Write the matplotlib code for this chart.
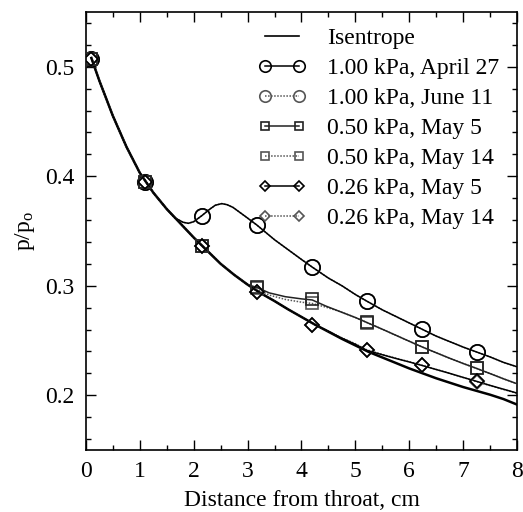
import numpy as np
import matplotlib
matplotlib.use("Agg")
import matplotlib.pyplot as plt
from matplotlib.ticker import MultipleLocator

plt.rcParams['font.family'] = ['Liberation Serif', 'DejaVu Serif']
plt.rcParams['mathtext.fontset'] = 'custom'
plt.rcParams['mathtext.rm'] = 'Liberation Serif'
plt.rcParams['mathtext.it'] = 'Liberation Serif:italic'

# ---- data ----
# measurement stations (cm from throat)
stations = [0.1, 1.1, 2.15, 3.17, 4.2, 5.21, 6.23, 7.25]

p_100_apr27 = [0.507, 0.395, 0.364, 0.3555, 0.317, 0.286, 0.2605, 0.2395]
p_100_jun11 = [0.507, 0.395, 0.364, 0.3555, 0.317, 0.286, 0.2605, 0.2395]
p_050_may5 = [0.507, 0.395, 0.336, 0.2985, 0.2875, 0.2665, 0.2443, 0.2245]
p_050_may14 = [0.507, 0.395, 0.336, 0.2975, 0.2838, 0.2660, 0.2443, 0.2245]
p_026_may5 = [0.507, 0.395, 0.336, 0.294, 0.264, 0.241, 0.2273, 0.2127]
p_026_may14 = [0.507, 0.395, 0.336, 0.2945, 0.2645, 0.2415, 0.2275, 0.2125]

# isentrope
isen_x = [0.1, 0.25, 0.5, 0.75, 1.0, 1.25, 1.5, 1.75, 2.0, 2.25, 2.5, 2.75,
          3.0, 3.25, 3.5, 3.75, 4.0, 4.25, 4.5, 4.75, 5.0, 5.25, 5.5, 5.75,
          6.0, 6.25, 6.5, 6.75, 7.0, 7.25, 7.5, 7.75, 8.0]
isen_p = [0.508, 0.487, 0.455, 0.427, 0.403, 0.385, 0.370, 0.357, 0.344,
          0.332, 0.320, 0.310, 0.301, 0.293, 0.286, 0.2785, 0.2715, 0.2645,
          0.258, 0.2515, 0.2455, 0.2395, 0.2345, 0.2295, 0.2245, 0.2200,
          0.2155, 0.2115, 0.2075, 0.2040, 0.2005, 0.1965, 0.1915]

# where each curve leaves the isentrope
circ_x = [1.65, 1.8, 1.9, 2.0, 2.15, 2.3, 2.4, 2.52, 2.62, 2.73, 2.98, 3.17,
          3.5, 3.75, 4.0, 4.2, 4.5, 4.75, 5.0, 5.21, 5.5, 5.75, 6.0, 6.23,
          6.5, 6.75, 7.0, 7.25, 7.5, 7.75, 8.0]
circ_p = [0.362, 0.358, 0.357, 0.3585, 0.364, 0.370, 0.3735, 0.375, 0.374,
          0.3715, 0.3625, 0.3555, 0.342, 0.333, 0.324, 0.317, 0.307, 0.300,
          0.292, 0.286, 0.278, 0.272, 0.266, 0.2605, 0.254, 0.249, 0.244,
          0.2395, 0.235, 0.230, 0.226]

sq5_x = [3.0, 3.17, 3.4, 3.7, 4.0, 4.2, 4.45, 4.71, 5.0, 5.21, 5.5, 5.75,
         6.0, 6.23, 6.5, 6.75, 7.0, 7.25, 7.5, 7.75, 8.0]
sq5_p = [0.301, 0.2985, 0.2935, 0.2900, 0.2880, 0.2870, 0.2815, 0.2765,
         0.2710, 0.2665, 0.2603, 0.2548, 0.2493, 0.2443, 0.2388, 0.2338,
         0.2290, 0.2245, 0.2198, 0.2150, 0.2105]
sq14_p = [0.301, 0.297, 0.2915, 0.2875, 0.2850, 0.2838, 0.2805, 0.2765,
          0.2710, 0.2665, 0.2603, 0.2548, 0.2493, 0.2443, 0.2388, 0.2338,
          0.2290, 0.2245, 0.2198, 0.2150, 0.2105]

dm5_x = [4.25, 4.5, 4.71, 5.0, 5.21, 5.5, 5.75, 6.0, 6.23, 6.5, 6.75, 7.0,
         7.25, 7.5, 7.75, 8.0]
dm5_p = [0.2645, 0.2585, 0.2530, 0.2465, 0.2410, 0.2370, 0.2336, 0.2304,
         0.2273, 0.2235, 0.2200, 0.2163, 0.2127, 0.2090, 0.2055, 0.2020]
dm14_p = [0.2645, 0.2585, 0.2533, 0.2470, 0.2415, 0.2373, 0.2338, 0.2306,
          0.2275, 0.2236, 0.2200, 0.2162, 0.2125, 0.2088, 0.2053, 0.2018]

labels = ['Isentrope', '1.00 kPa, April 27', '1.00 kPa, June 11',
          '0.50 kPa, May 5', '0.50 kPa, May 14', '0.26 kPa, May 5',
          '0.26 kPa, May 14']


def branch(bx, bp):
    # isentrope up to the branch point, then the measured curve
    keep = [i for i, x in enumerate(isen_x) if x < bx[0]]
    return ([isen_x[i] for i in keep] + list(bx),
            [isen_p[i] for i in keep] + list(bp))


fig = plt.figure(figsize=(5.23, 5.12), dpi=100)
ax = fig.add_axes([0.1644, 0.1211, 0.8241, 0.8555])

ax.plot(isen_x, isen_p, color='black', lw=1.8, label=labels[0], zorder=3)

grey = '#555555'
series = [
    (circ_x, circ_p, stations, p_100_jun11, 'o', 11, grey, ':', labels[2]),
    (circ_x, circ_p, stations, p_100_apr27, 'o', 11, 'black', '-', labels[1]),
    (sq5_x, sq14_p, stations, p_050_may14, 's', 8.5, grey, ':', labels[4]),
    (sq5_x, sq5_p, stations, p_050_may5, 's', 8.5, '#222222', '-', labels[3]),
    (dm5_x, dm14_p, stations, p_026_may14, 'D', 7, grey, ':', labels[6]),
    (dm5_x, dm5_p, stations, p_026_may5, 'D', 7, 'black', '-', labels[5]),
]
handles = {}
for bx, bp, mx, mp, mk, ms, col, ls, lab in series:
    cx, cp = branch(bx, bp)
    ax.plot(cx, cp, color=col, lw=1.1, ls=ls if ls == '-' else (0, (1, 1)),
            zorder=4)
    ax.plot(mx, mp, ls='none', marker=mk, ms=ms, mfc='none', mec=col,
            mew=1.2, zorder=5)
    h, = ax.plot([], [], color=col, lw=1.1,
                 ls=ls if ls == '-' else (0, (1, 1)), marker=mk,
                 ms=ms * 0.75, mfc='none', mec=col, mew=1.2)
    handles[lab] = h

iso_h, = ax.plot([], [], color='black', lw=1.2)
leg_handles = [iso_h] + [handles[l] for l in labels[1:]]
ax.legend(leg_handles, labels, loc='upper left', bbox_to_anchor=(0.40, 0.965),
          frameon=False, fontsize=17, numpoints=2, handlelength=2.0,
          handletextpad=0.9, labelspacing=0.36, borderpad=0, borderaxespad=0)

ax.set_xlim(0, 8)
ax.set_ylim(0.15, 0.55)
ax.xaxis.set_major_locator(MultipleLocator(1))
ax.xaxis.set_minor_locator(MultipleLocator(0.5))
ax.yaxis.set_major_locator(MultipleLocator(0.1))
ax.yaxis.set_minor_locator(MultipleLocator(0.02))
ax.set_yticks([0.2, 0.3, 0.4, 0.5])
ax.tick_params(which='both', direction='in', top=True, right=True,
               labelsize=17, width=1)
ax.tick_params(which='major', length=7, pad=8)
ax.tick_params(which='minor', length=3.5)
for s in ax.spines.values():
    s.set_linewidth(1.2)

ax.set_xlabel('Distance from throat, cm', fontsize=17, labelpad=6)
ax.set_ylabel(r'p/p$_\mathrm{o}$', fontsize=17, labelpad=6)

fig.savefig('out.png', dpi=100)
